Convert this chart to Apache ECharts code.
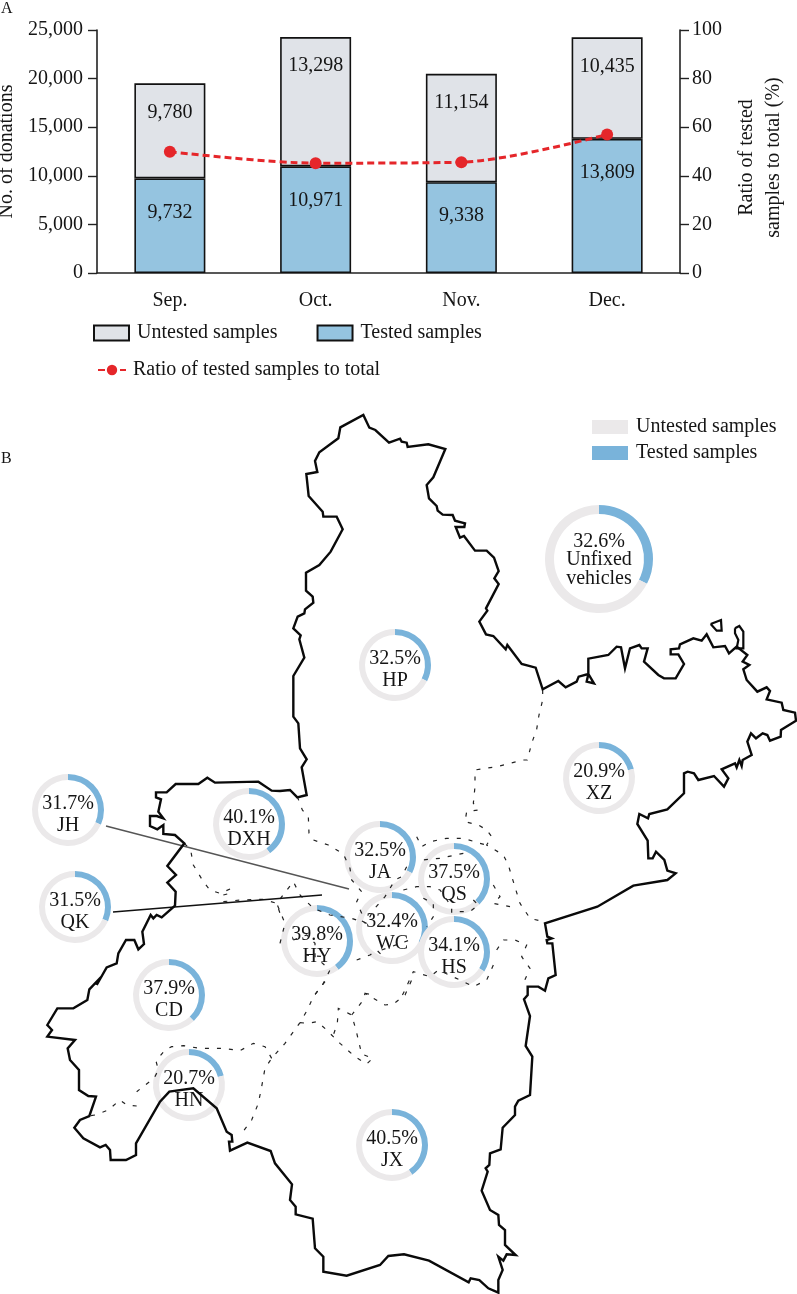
<!DOCTYPE html>
<html>
<head>
<meta charset="utf-8">
<title>Samples</title>
<script src="https://cdn.jsdelivr.net/npm/echarts@6/dist/echarts.min.js"></script>
<style>
html, body { margin: 0; padding: 0; background: #fff; }
#chart { width: 797px; height: 1294px; }
</style>
</head>
<body>
<div id="chart"></div>
<script>
var months = ['Sep.', 'Oct.', 'Nov.', 'Dec.'];
var testedSamples = [9732, 10971, 9338, 13809];
var untestedSamples = [9780, 13298, 11154, 10435];
var testedRatio = [49.9, 45.2, 45.6, 57.0];

var siteCodes = ['Unfixed\nvehicles', 'HP', 'XZ', 'JH', 'DXH', 'QK', 'JA', 'QS', 'WC', 'HY', 'HS', 'CD', 'HN', 'JX'];
var siteTested = [32.6, 32.5, 20.9, 31.7, 40.1, 31.5, 32.5, 37.5, 32.4, 39.8, 34.1, 37.9, 20.7, 40.5];
var siteCentres = [[599, 559], [395, 665], [599, 778], [68, 810], [249, 824], [75, 907], [380, 857],
    [454, 879], [392, 928], [317, 941], [454, 952], [169, 995], [189, 1085], [392, 1145]];

function crop(ox, oy, pts) {
    return pts.map(function (p) { return [ox + p[0] / 3, oy + p[1] / 3]; });
}
var border = [].concat(
    crop(0, 740, [[290,735],[320,682],[350,670],[355,640],[378,600],[403,600],[415,628],[432,612],[427,575],[452,525],[460,535],[470,525],[485,532],[525,497],[527,455],[502,428],[528,405],[502,378],[553,310],[525,285],[490,282],[490,255],[472,268],[450,258],[450,228],[470,228],[490,235],[475,215],[483,178],[468,172],[468,157],[500,157],[527,132],[595,132],[622,113],[645,128],[775,125],[815,152]]),
    crop(270, 680, [[30,333],[60,330],[82,352],[110,345],[95,262],[110,238],[90,205],[85,130],[70,110],[70,0]]),
    crop(260, 400, [[100,828],[133,773],[118,718],[122,706],[100,685],[113,650],[133,640],[135,628],[160,608],[158,590],[138,572],[138,518],[178,495],[212,455],[248,388],[230,350],[190,350],[188,335],[146,288],[139,222],[172,216],[165,183],[178,157],[235,115],[241,82],[310,45],[328,83],[346,90],[387,128],[420,116],[425,125],[440,128],[443,141],[505,133],[556,147],[520,232],[500,255],[507,295],[530,318],[533,332],[548,344],[578,345],[585,362],[615,370],[613,381],[587,381],[600,413],[612,408],[645,452],[680,452],[702,473],[716,513],[703,535],[716,552],[678,625],[682,632],[658,665],[678,703],[700,708],[737,748],[742,735],[785,792]]),
    crop(520, 400, [[47,803],[68,868],[115,843],[137,862],[170,845],[176,830],[205,822],[222,850],[200,845],[205,822],[205,776],[265,765],[290,740],[303,742],[315,805],[330,745],[358,735],[365,745],[383,745],[372,785],[415,825],[432,835],[467,835],[492,792],[475,763],[452,763],[452,748],[477,745],[480,733],[520,715],[545,722],[560,703],[580,742],[615,738],[627,760],[650,740],[682,765],[668,785],[688,795],[670,808]]),
    crop(520, 680, [[680,0],[712,35],[740,22],[750,33],[740,58],[785,68],[790,90],[825,98],[828,122],[783,150],[782,170],[750,182],[742,165],[728,160],[708,175],[693,160],[682,185],[695,225],[668,240],[665,258],[658,240],[650,262],[645,250],[605,268],[625,295],[612,320],[582,288],[535,300],[522,280],[503,275],[492,280],[492,340],[442,388],[388,402],[384,415],[358,402],[352,432],[383,482],[385,535],[398,535],[408,515],[433,540],[442,572],[467,580],[442,600],[340,617],[232,680],[75,730],[82,770],[95,775],[80,780],[82,790],[97,790],[107,885],[85,895]]),
    crop(230, 980, [[960,0],[945,32],[925,20],[893,20],[893,45],[882,58],[900,108],[887,198],[907,230],[900,345],[865,362],[855,380],[855,405],[818,443],[812,508],[780,520],[778,555],[767,565],[773,575],[755,632],[780,690],[805,705],[807,735],[825,750],[825,795],[857,825],[830,823],[820,842],[805,830],[818,870],[805,900],[805,938],[775,925],[748,900],[745,897],[722,895],[716,907],[597,842],[522,823],[475,828],[450,855],[350,887],[280,875],[280,830],[255,805],[248,716],[197,703],[197,680],[180,660],[186,613],[135,550],[122,513],[52,488]]),
    crop(30, 980, [[600,512],[595,512],[597,485],[607,485],[605,465],[590,455],[560,385],[490,325],[418,335],[390,365],[318,490],[318,525],[288,540],[242,540],[240,510],[227,495],[210,502],[160,475],[133,443],[150,420],[178,408],[198,350],[175,348],[147,330],[147,270],[120,240],[113,205],[135,180],[52,170],[66,150],[52,135],[82,85],[130,85],[172,60],[178,28],[205,0]])
);
border.push(border[0]);
var islands = [
    crop(520, 400, [[572,672],[603,660],[605,692],[590,692],[572,672]]),
    crop(520, 400, [[645,685],[658,678],[670,695],[670,745],[650,745],[655,720],[645,700],[645,685]])
];
var districtLines = [
    crop(270, 780, [[82,50],[97,90],[115,110],[117,160],[130,180],[175,195],[220,222],[240,265],[245,300],[275,335],[260,365],[275,400],[270,420]]),
    crop(520, 680, [[68,30],[68,60],[57,105],[50,148],[35,190],[22,240]]).concat(crop(270, 780, [[760,-60],[680,-40],[615,-30],[615,20],[610,70],[625,90],[590,95],[585,125],[625,135],[650,150],[665,170],[650,195],[700,225],[715,255],[730,305],[750,370],[780,415],[820,425]])),
    crop(270, 780, [[440,170],[455,200],[480,185],[530,175],[580,175],[630,190],[650,195]]),
    crop(270, 780, [[410,260],[395,290],[375,300],[345,350],[310,390],[290,430],[270,420]]),
    crop(270, 780, [[580,220],[510,235],[455,240]]),
    crop(270, 780, [[400,330],[440,320],[480,320],[510,330],[545,380],[545,410]]),
    crop(270, 780, [[670,315],[690,350],[670,370],[720,380]]),
    crop(270, 780, [[610,360],[625,375],[600,395],[545,395]]),
    crop(270, 780, [[460,355],[490,370],[490,410],[470,440]]),
    crop(270, 780, [[680,510],[700,480],[735,480],[770,495],[755,530],[780,565],[760,610]]),
    crop(270, 780, [[670,555],[650,600],[610,620],[570,600],[505,570],[480,590],[430,575],[405,630],[390,660]]),
    crop(270, 780, [[30,490],[45,430],[20,370],[70,305],[90,345],[130,385],[180,405],[245,415],[290,430]]),
    crop(270, 780, [[70,480],[110,465],[135,490],[135,530],[180,570],[160,610],[130,650]]),
    crop(270, 780, [[105,525],[160,530]]),
    crop(270, 780, [[260,540],[300,525],[320,510],[345,535]]),
    crop(270, 780, [[335,510],[420,480]]),
    crop(270, 780, [[285,640],[310,645]]),
    crop(0, 740, [[553,310],[572,330],[580,375],[610,425],[630,450],[660,460],[695,445]]),
    crop(0, 740, [[670,465],[690,460]]),
    crop(0, 740, [[670,485],[720,480],[790,478],[830,490],[840,520]]),
    crop(230, 980, [[285,5],[250,50],[232,90],[210,128],[165,190],[125,235],[105,265],[95,320],[85,370],[65,420],[35,460]]),
    crop(230, 980, [[125,235],[105,200],[70,190],[30,212]]).concat(crop(30, 980, [[630,213],[580,205],[510,205],[460,197],[425,200],[405,210],[378,243],[385,270],[372,295],[320,335]])),
    crop(30, 980, [[320,378],[290,375],[270,360],[235,390],[195,405],[178,408]]),
    crop(230, 980, [[210,128],[235,130],[262,125],[290,150],[330,190],[375,230],[410,252],[428,235],[395,222],[378,150],[365,105],[325,85],[322,130],[310,165]]),
    crop(230, 980, [[365,105],[400,60],[405,40],[465,75],[490,72],[525,45],[545,0]])
];
var leaderJH = [[106, 826], [349, 889]];
var leaderQK = [[113, 912], [322, 895]];

var fontName = '"Liberation Serif", serif';
var textColor = '#151515';

function baseLine(points, width, color, dash) {
    return {
        type: 'line',
        xAxisIndex: 1,
        yAxisIndex: 2,
        data: points,
        showSymbol: false,
        silent: true,
        lineStyle: { color: color, width: width, type: dash || 'solid', join: 'miter' }
    };
}

function ringSeries(i) {
    var big = i === 0;
    return {
        type: 'pie',
        center: siteCentres[i],
        radius: big ? [45, 54] : [30, 36],
        startAngle: 90,
        clockwise: true,
        silent: true,
        label: {
            show: true,
            position: 'center',
            fontFamily: fontName,
            fontSize: 20,
            color: textColor,
            lineHeight: big ? 18.5 : 22,
            offset: [0, big ? 1 : 5],
            formatter: siteTested[i].toFixed(1) + '%\n' + siteCodes[i]
        },
        labelLine: { show: false },
        data: [
            { name: 'Tested samples', value: siteTested[i], itemStyle: { color: '#79b3da' } },
            { name: 'Untested samples', value: 100 - siteTested[i], itemStyle: { color: '#ebe9ea' }, label: { show: false } }
        ]
    };
}

var series = [
    {
        name: 'Tested samples',
        type: 'bar',
        stack: 'samples',
        barWidth: 71,
        data: testedSamples,
        itemStyle: { color: '#95c4e0', borderColor: '#111', borderWidth: 1.6 },
        label: { show: true, position: 'insideTop', distance: 24, fontFamily: fontName, fontSize: 20, color: textColor,
            formatter: function (p) { return p.value.toLocaleString('en-US'); } }
    },
    {
        name: 'Untested samples',
        type: 'bar',
        stack: 'samples',
        data: untestedSamples,
        itemStyle: { color: '#e0e3e8', borderColor: '#111', borderWidth: 1.6 },
        label: { show: true, position: 'insideTop', distance: 19, fontFamily: fontName, fontSize: 20, color: textColor,
            formatter: function (p) { return p.value.toLocaleString('en-US'); } }
    },
    {
        name: 'Ratio of tested samples to total',
        type: 'line',
        yAxisIndex: 1,
        smooth: 0.3,
        data: testedRatio,
        symbol: 'circle',
        symbolSize: 12,
        itemStyle: { color: '#e5262a' },
        lineStyle: { color: '#e5262a', width: 3, type: [7, 4] }
    }
];
siteCodes.forEach(function (code, i) { series.push(ringSeries(i)); });
districtLines.forEach(function (pts) { series.push(baseLine(pts, 1.2, '#222', [4, 8])); });
series.push(baseLine(leaderJH, 1.4, '#555'));
series.push(baseLine(leaderQK, 1.4, '#111'));
series.push(baseLine(border, 2.4, '#0a0a0a'));
islands.forEach(function (pts) { series.push(baseLine(pts, 2.2, '#0a0a0a')); });

var chart = echarts.init(document.getElementById('chart'));
chart.setOption({
    animation: false,
    textStyle: { fontFamily: fontName },
    grid: [
        { left: 97, top: 30, width: 583, height: 243, outerBoundsMode: 'none' },
        { left: 0, top: 0, width: 797, height: 1294, outerBoundsMode: 'none' }
    ],
    legend: [
        {
            left: 93, top: 323, padding: 0, itemWidth: 35, itemHeight: 15, itemGap: 39, icon: 'rect',
            textStyle: { fontFamily: fontName, fontSize: 20, color: textColor, padding: [0, 0, 0, 3] },
            data: ['Untested samples', 'Tested samples']
        },
        {
            left: 97, top: 360, padding: 0, itemWidth: 28, itemHeight: 13,
            textStyle: { fontFamily: fontName, fontSize: 20, color: textColor, padding: [0, 0, 0, 2] },
            data: ['Ratio of tested samples to total']
        },
        {
            left: 592, top: 417, padding: 0, orient: 'vertical', itemWidth: 36, itemHeight: 14, itemGap: 6, icon: 'rect',
            textStyle: { fontFamily: fontName, fontSize: 20, color: textColor, padding: [0, 0, 0, 3] },
            data: [
                { name: 'Untested samples', itemStyle: { color: '#ebe9ea', borderWidth: 0 } },
                { name: 'Tested samples', itemStyle: { color: '#79b3da', borderWidth: 0 } }
            ]
        }
    ],
    xAxis: [
        {
            type: 'category',
            gridIndex: 0,
            data: months,
            axisTick: { alignWithLabel: true, length: 10, lineStyle: { color: '#222', width: 1.4 } },
            axisLine: { lineStyle: { color: '#222', width: 1.6 } },
            axisLabel: { margin: 18, fontFamily: fontName, fontSize: 20, color: textColor }
        },
        { type: 'value', gridIndex: 1, min: 0, max: 797, show: false }
    ],
    yAxis: [
        {
            type: 'value',
            gridIndex: 0,
            min: 0,
            max: 25000,
            interval: 5000,
            name: 'No. of donations',
            nameLocation: 'middle',
            nameGap: 73,
            nameTextStyle: { fontFamily: fontName, fontSize: 20, color: textColor },
            splitLine: { show: false },
            axisLine: { show: true, lineStyle: { color: '#222', width: 1.6 } },
            axisTick: { show: true, length: 9, lineStyle: { color: '#222', width: 1.4 } },
            axisLabel: { margin: 14, padding: [7, 0, 0, 0], fontFamily: fontName, fontSize: 20, color: textColor,
                formatter: function (v) { return v.toLocaleString('en-US'); } }
        },
        {
            type: 'value',
            gridIndex: 0,
            position: 'right',
            min: 0,
            max: 100,
            interval: 20,
            name: 'Ratio of tested\nsamples to total (%)',
            nameLocation: 'middle',
            nameGap: 47,
            nameRotate: 90,
            nameTextStyle: { fontFamily: fontName, fontSize: 20, color: textColor, lineHeight: 27, padding: [0, 12, 0, 0] },
            splitLine: { show: false },
            axisLine: { show: true, lineStyle: { color: '#222', width: 1.6 } },
            axisTick: { show: true, length: 9, lineStyle: { color: '#222', width: 1.4 } },
            axisLabel: { margin: 12, padding: [7, 0, 0, 0], fontFamily: fontName, fontSize: 20, color: textColor }
        },
        { type: 'value', gridIndex: 1, min: 0, max: 1294, inverse: true, show: false }
    ],
    graphic: [
        { type: 'text', left: 1, top: 1, style: { text: 'A', fontFamily: fontName, fontSize: 16, fill: textColor } },
        { type: 'text', left: 1, top: 451, style: { text: 'B', fontFamily: fontName, fontSize: 16, fill: textColor } }
    ],
    series: series
});
</script>
</body>
</html>
